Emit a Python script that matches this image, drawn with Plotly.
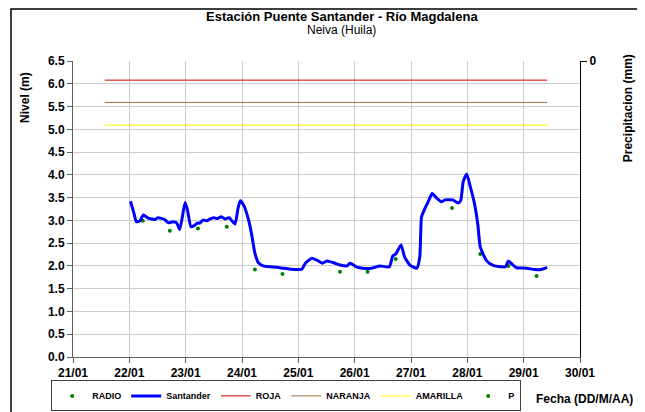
import plotly.graph_objects as go

# Estación Puente Santander - Río Magdalena (Neiva, Huila)
fecha_santander = [
    "2011-01-22 00:30", "2011-01-22 02:00", "2011-01-22 03:00", "2011-01-22 04:30",
    "2011-01-22 06:00", "2011-01-22 08:00", "2011-01-22 11:00", "2011-01-22 12:15",
    "2011-01-22 15:00", "2011-01-22 16:30", "2011-01-22 18:45", "2011-01-22 20:15",
    "2011-01-22 21:30", "2011-01-22 23:45", "2011-01-23 00:45", "2011-01-23 02:15",
    "2011-01-23 03:30", "2011-01-23 05:00", "2011-01-23 06:00", "2011-01-23 07:30",
    "2011-01-23 09:00", "2011-01-23 10:15", "2011-01-23 12:00", "2011-01-23 13:30",
    "2011-01-23 15:15", "2011-01-23 16:45", "2011-01-23 18:30", "2011-01-23 21:00",
    "2011-01-23 22:15", "2011-01-23 23:15", "2011-01-24 00:45", "2011-01-24 02:45",
    "2011-01-24 04:00", "2011-01-24 05:30", "2011-01-24 07:00", "2011-01-24 09:00",
    "2011-01-24 12:00", "2011-01-24 14:45", "2011-01-24 17:30", "2011-01-24 20:30",
    "2011-01-25 01:30", "2011-01-25 03:00", "2011-01-25 05:45", "2011-01-25 07:45",
    "2011-01-25 10:15", "2011-01-25 12:15", "2011-01-25 15:00", "2011-01-25 17:45",
    "2011-01-25 20:45", "2011-01-25 22:00", "2011-01-26 00:45", "2011-01-26 03:30",
    "2011-01-26 07:15", "2011-01-26 10:45", "2011-01-26 14:45", "2011-01-26 16:15",
    "2011-01-26 17:30", "2011-01-26 19:45", "2011-01-26 21:15", "2011-01-26 23:30",
    "2011-01-27 02:30", "2011-01-27 03:45", "2011-01-27 04:30", "2011-01-27 06:00",
    "2011-01-27 07:15", "2011-01-27 09:00", "2011-01-27 10:45", "2011-01-27 13:00",
    "2011-01-27 14:30", "2011-01-27 17:45", "2011-01-27 20:15", "2011-01-27 21:15",
    "2011-01-27 22:15", "2011-01-27 23:45", "2011-01-28 01:15", "2011-01-28 03:00",
    "2011-01-28 04:30", "2011-01-28 05:30", "2011-01-28 08:15", "2011-01-28 11:00",
    "2011-01-28 14:30", "2011-01-28 16:15", "2011-01-28 17:30", "2011-01-28 19:00",
    "2011-01-28 21:00", "2011-01-29 01:15", "2011-01-29 04:45", "2011-01-29 07:15",
    "2011-01-29 10:00",
]
nivel_santander = [
    3.42, 3.15, 2.97, 2.99, 3.12, 3.05, 3.02, 3.06, 3.02, 2.95, 2.97, 2.94,
    2.80, 3.39, 3.23, 2.86, 2.88, 2.94, 2.94, 3.01, 2.99, 3.03, 3.06, 3.04,
    3.08, 3.03, 3.06, 2.92, 3.25, 3.43, 3.33, 3.02, 2.72, 2.28, 2.07, 2.00,
    1.98, 1.97, 1.95, 1.93, 1.93, 2.06, 2.17, 2.13, 2.06, 2.11, 2.07, 2.02,
    2.00, 2.06, 1.98, 1.95, 1.95, 2.00, 1.98, 2.22, 2.26, 2.46, 2.20, 2.02,
    1.95, 2.20, 3.08, 3.27, 3.40, 3.59, 3.50, 3.41, 3.45, 3.45, 3.38, 3.45,
    3.85, 4.02, 3.74, 3.38, 2.90, 2.42, 2.11, 2.01, 1.98, 1.98, 2.11, 2.04,
    1.96, 1.95, 1.92, 1.92, 1.97,
]

fecha_radio = [
    "2011-01-22 05:45", "2011-01-22 17:15", "2011-01-23 05:15", "2011-01-23 17:30",
    "2011-01-24 05:30", "2011-01-24 17:15", "2011-01-25 17:45", "2011-01-26 05:30",
    "2011-01-26 17:30", "2011-01-27 17:30", "2011-01-28 05:30", "2011-01-28 17:30",
    "2011-01-29 05:30",
]
nivel_radio = [2.99, 2.77, 2.82, 2.86, 1.92, 1.82, 1.87, 1.87, 2.15, 3.27, 2.26, 2.00, 1.78]

fecha_alertas = ["2011-01-21 13:30", "2011-01-29 10:00"]
nivel_roja = 6.08
nivel_naranja = 5.59
nivel_amarilla = 5.09

fecha_p = []
precipitacion = []

ticks_nivel = [i * 0.5 for i in range(14)]

FONT = "Liberation Sans, Arial, sans-serif"

fig = go.Figure()
fig.add_trace(go.Scatter(x=fecha_radio, y=nivel_radio, mode="markers", name="RADIO",
                         marker=dict(color="#008000", size=4)))
fig.add_trace(go.Scatter(x=fecha_santander, y=nivel_santander, mode="lines", name="Santander",
                         line=dict(color="#0000ff", width=3, shape="spline", smoothing=0.5)))
fig.add_trace(go.Scatter(x=fecha_alertas, y=[nivel_roja] * 2, mode="lines", name="ROJA",
                         line=dict(color="#d80000", width=1)))
fig.add_trace(go.Scatter(x=fecha_alertas, y=[nivel_naranja] * 2, mode="lines", name="NARANJA",
                         line=dict(color="#a0703c", width=1)))
fig.add_trace(go.Scatter(x=fecha_alertas, y=[nivel_amarilla] * 2, mode="lines", name="AMARILLA",
                         line=dict(color="#ffff00", width=1)))
fig.add_trace(go.Scatter(x=fecha_p or [None], y=precipitacion or [None], mode="markers", name="P",
                         marker=dict(color="#008000", size=4), yaxis="y2"))

# la página tiene 8 px de margen; el tamaño y los márgenes lo compensan
fig.update_layout(
    width=637, height=404,
    margin=dict(l=65, r=65, t=53, b=55, autoexpand=False),
    paper_bgcolor="white", plot_bgcolor="white",
    font=dict(family=FONT, size=12, color="black"),
    showlegend=True,
    legend=dict(orientation="h", x=-0.043, xanchor="left", y=-0.079, yanchor="top",
                bordercolor="#404040", borderwidth=1, bgcolor="white",
                font=dict(size=9, family=FONT, weight="bold"), traceorder="normal"),
    xaxis=dict(
        range=["2011-01-21", "2011-01-30"], type="date",
        tickformat="%d/%m", dtick=86400000, tick0="2011-01-21",
        ticks="outside", ticklen=5, tickcolor="#606060",
        showline=True, linecolor="#606060", linewidth=1,
        showgrid=True, gridcolor="#cccccc", gridwidth=1,
        tickfont=dict(size=12, weight="bold"),
    ),
    yaxis=dict(
        range=[0, 6.5], tickvals=ticks_nivel, tickformat=".1f",
        ticks="outside", ticklen=5, tickcolor="#606060",
        showline=True, linecolor="#606060", linewidth=1,
        showgrid=True, gridcolor="#cccccc", gridwidth=1, zeroline=False,
        tickfont=dict(size=12, weight="bold"),
    ),
    yaxis2=dict(
        overlaying="y", side="right", range=[1, 0], tickvals=[0],
        ticks="outside", ticklen=6, tickcolor="black",
        showline=True, linecolor="black", linewidth=1,
        showgrid=False, zeroline=False, tickfont=dict(size=12, weight="bold"),
    ),
)

notas = dict(xref="paper", yref="paper", showarrow=False, xanchor="center", yanchor="middle")
fig.add_annotation(text="<b>Estación Puente Santander - Río Magdalena</b>",
                   x=0.53, y=1.152, font=dict(size=13), **notas)
fig.add_annotation(text="Neiva (Huila)", x=0.53, y=1.105, font=dict(size=12), **notas)
fig.add_annotation(text="<b>Nivel (m)</b>", textangle=-90,
                   x=-0.095, y=0.878, font=dict(size=12), **notas)
fig.add_annotation(text="<b>Precipitacion (mm)</b>", textangle=-90,
                   x=1.095, y=0.841, font=dict(size=12), **notas)
fig.add_annotation(text="<b>Fecha (DD/M/AA)</b>", x=0.909, y=-0.142,
                   font=dict(size=12), **{**notas, "xanchor": "left"})

# marco del gráfico
fig.add_shape(type="rect", xref="paper", yref="paper", x0=-0.1223, x1=1.1223, y0=-0.25, y1=1.176,
              line=dict(color="black", width=1.5))

fig.write_html("out.html")
